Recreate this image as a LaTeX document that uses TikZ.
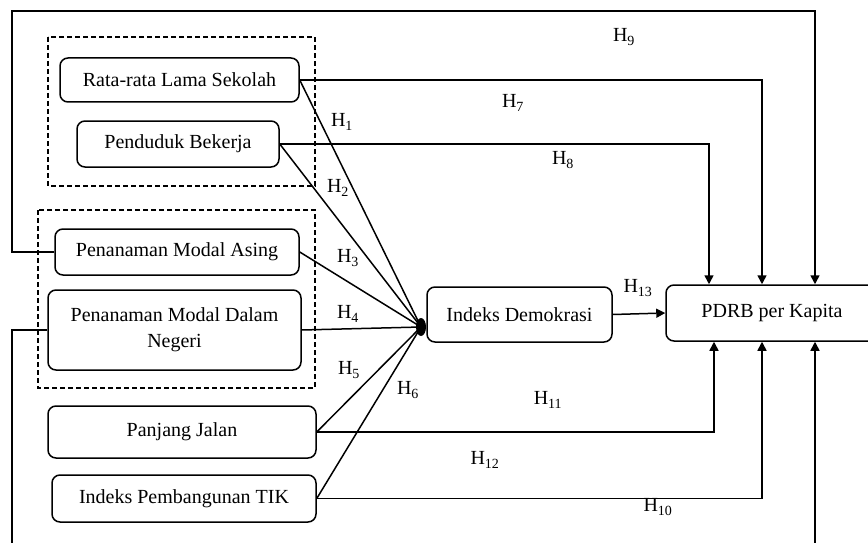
\documentclass[tikz,border=0pt]{standalone}
\usepackage{fontspec}
\setmainfont{Liberation Serif}
\usetikzlibrary{arrows.meta}
\newcommand{\hlab}[1]{H\textsubscript{#1}}
\begin{document}
\begin{tikzpicture}
[x=1pt,y=-1pt,line width=1.5pt,%
  box/.style={draw,rounded corners=8pt,align=center,inner sep=2pt},%
  grp/.style={draw,line width=1.3pt,dash pattern=on 5pt off 3pt},%
  lab/.style={inner sep=0pt},%
  >={Triangle[length=9pt,width=9pt]}]
\fontsize{20}{26}\selectfont
\clip (0,0) rectangle (868,543);
\draw[grp] (48,37) rectangle (315,186);
\draw[grp] (38,210) rectangle (315,388);
\node[box,minimum width=239pt,minimum height=44pt] (rls) at (179.5,80) {Rata-rata Lama Sekolah};
\node[box,minimum width=202pt,minimum height=46pt] (pdb) at (178,144) {Penduduk Bekerja};
\node[box,minimum width=244pt,minimum height=46pt] (pma) at (177,252) {Penanaman Modal Asing};
\node[box,minimum width=253pt,minimum height=80pt] (pmdn) at (174.5,330) {Penanaman Modal Dalam\\Negeri};
\node[box,minimum width=268pt,minimum height=52pt] (pj) at (182,432) {Panjang Jalan};
\node[box,minimum width=264pt,minimum height=47pt] (ipt) at (184,498.5) {Indeks Pembangunan TIK};
\node[box,minimum width=185pt,minimum height=55pt] (idem) at (519.5,314.5) {Indeks Demokrasi};
\node[box,minimum width=212pt,minimum height=56pt] (pdrb) at (772,313) {PDRB per Kapita};
\coordinate (hub) at (421,327);
\coordinate (tl) at (12,11);
\coordinate (bl) at (12,552);
\path
(rls.east) edge (hub)
(pdb.east) edge (hub)
(pma.east) edge (hub)
(pmdn.east) edge (hub)
(pj.east) edge (hub)
(ipt.east) edge (hub);
\fill (hub) ellipse [x radius=5pt,y radius=9pt];
\draw[->] (idem.east) -- (pdrb.west);
\draw[->] (rls.east) -| ([xshift=-10pt]pdrb.north);
\draw[->] (pdb.east) -| ([xshift=-63pt]pdrb.north);
\draw[->] (pma.west) -| (tl) -| ([xshift=43pt]pdrb.north);
\draw[->] (pj.east) -| ([xshift=-58pt]pdrb.south);
\draw[->] (ipt.east) -| ([xshift=-10pt]pdrb.south);
\draw[->] (pmdn.west) -| (bl) -| ([xshift=43pt]pdrb.south);
\node[lab] (h1) at (342,122) {\hlab{1}};
\node[lab] (h2) at (338,188) {\hlab{2}};
\node[lab] (h3) at (348,258) {\hlab{3}};
\node[lab] (h4) at (348,314) {\hlab{4}};
\node[lab] (h5) at (349,370) {\hlab{5}};
\node[lab] (h6) at (408,390) {\hlab{6}};
\node[lab] (h7) at (513,103) {\hlab{7}};
\node[lab] (h8) at (563,160) {\hlab{8}};
\node[lab] (h9) at (624,37) {\hlab{9}};
\node[lab] (h10) at (658,507) {\hlab{10}};
\node[lab] (h11) at (548,400) {\hlab{11}};
\node[lab] (h12) at (485,460) {\hlab{12}};
\node[lab] (h13) at (638,288) {\hlab{13}};
\end{tikzpicture}
\end{document}
